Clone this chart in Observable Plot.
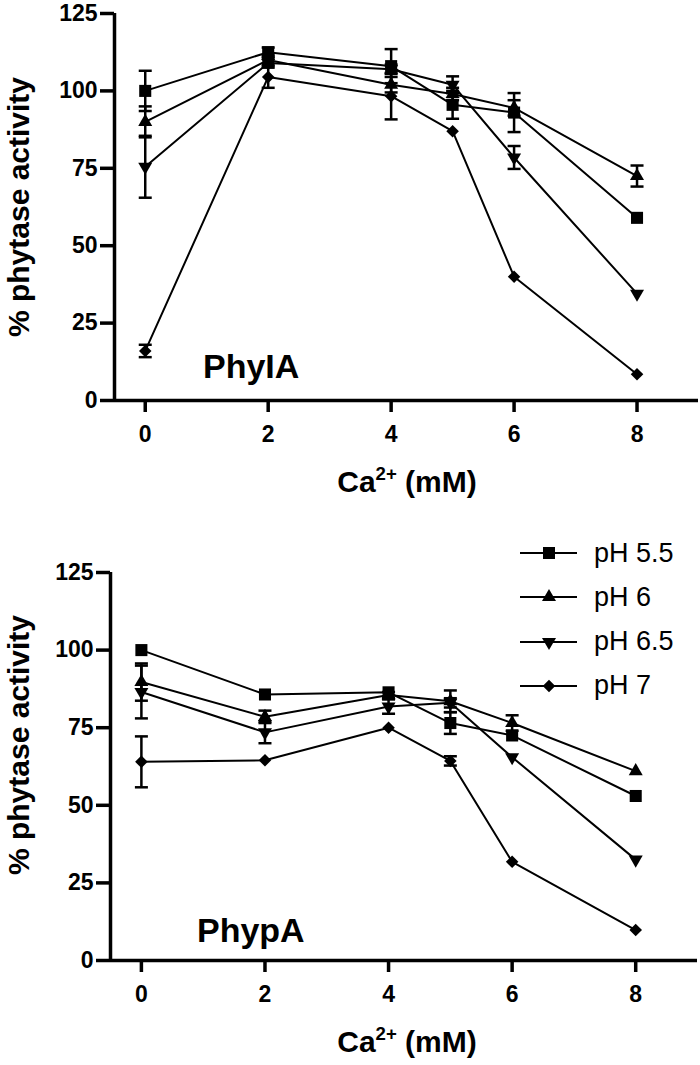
<!DOCTYPE html>
<html><head><meta charset="utf-8">
<script src="https://cdn.jsdelivr.net/npm/d3@7"></script>
<script src="https://cdn.jsdelivr.net/npm/@observablehq/plot@0.6"></script>
<style>
body{margin:0;background:#fff;font-family:"Liberation Sans",Arial,sans-serif;}
#wrap{position:relative;width:700px;height:1065px;overflow:hidden;background:#fff;}
.abs{position:absolute;white-space:nowrap;color:#000;line-height:1;}
.ylab{font-weight:bold;font-size:30px;width:400px;text-align:center;transform:rotate(-90deg);}
.xlab{font-weight:bold;font-size:30px;width:300px;text-align:center;}
.xlab sup{font-size:0.62em;vertical-align:0;position:relative;top:-0.62em;line-height:0;}
.panel{font-weight:bold;font-size:34px;}
.leg{font-size:27px;display:flex;align-items:center;height:44px;}
.leg svg{margin-right:8px;}
.plotbox{position:absolute;left:0;}
</style></head>
<body><div id="wrap"></div>
<script>
// ---- data ----
const caConc = [0, 2, 4, 5, 6, 8];
const phLabels = ["pH 5.5", "pH 6", "pH 6.5", "pH 7"];
const xTicks = [0, 2, 4, 6, 8];
const yTicks = [0, 25, 50, 75, 100, 125];

// PhyIA (% phytase activity) and error bars
const phyIA_pH55 = [100, 112.5, 108, 95.5, 93, 59];
const phyIA_pH6  = [90, 110, 102, 99, 94.5, 72.5];
const phyIA_pH65 = [75.5, 109, 107, 102, 78.5, 34.5];
const phyIA_pH7  = [16, 104.5, 98.3, 87, 40, 8.5];
const phyIA_err55 = [6.5, 1.5, 5.5, 4.5, 6.3, 0];
const phyIA_err6  = [5, 1.5, 2.5, 2, 2.5, 3.4];
const phyIA_err65 = [10, 1.5, 1.5, 2.7, 3.7, 0];
const phyIA_err7  = [2, 3.5, 7.5, 0, 0, 0];

// PhypA
const phypA_pH55 = [100, 85.7, 86.4, 76.5, 72.5, 53];
const phypA_pH6  = [89.7, 78.5, 85.5, 83.5, 76.5, 61];
const phypA_pH65 = [86.5, 73.5, 81.8, 83, 65.5, 32.5];
const phypA_pH7  = [64, 64.5, 75, 64.3, 31.8, 9.8];
const phypA_err55 = [0, 0, 0, 3.5, 0, 0];
const phypA_err6  = [6, 2, 1, 3.5, 2.5, 0];
const phypA_err65 = [8.5, 3.5, 2.3, 1.5, 0, 0];
const phypA_err7  = [8.2, 0, 0, 1.5, 0, 0];

// ---- helpers ----
function rows(vals, errs, s) {
  return caConc.map((x, i) => ({x, y: vals[i], e: errs[i], s}));
}
const markerStyle = {
  "pH 5.5": {symbol: "square", r: 6.8, rotate: 0},
  "pH 6":   {symbol: "triangle", r: 5.2, rotate: 0},
  "pH 6.5": {symbol: "triangle", r: 5.2, rotate: 180},
  "pH 7":   {symbol: "square", r: 5, rotate: 45}
};
const capSymbol = {draw(ctx) { ctx.moveTo(-6.5, 0); ctx.lineTo(6.5, 0); }};

function panel(series, opts) {
  const data = series.flat();
  const err = data.filter(d => d.e > 0);
  const marks = [
    Plot.ruleX(err, {x: "x", y1: d => d.y - d.e, y2: d => d.y + d.e, stroke: "black", strokeWidth: 2.5}),
    Plot.dot(err, {x: "x", y: d => d.y + d.e, symbol: capSymbol, fill: "none", stroke: "black", strokeWidth: 2.5}),
    Plot.dot(err, {x: "x", y: d => d.y - d.e, symbol: capSymbol, fill: "none", stroke: "black", strokeWidth: 2.5}),
    Plot.line(data, {x: "x", y: "y", z: "s", stroke: "black", strokeWidth: 2})
  ];
  for (const s of phLabels) {
    const m = markerStyle[s];
    marks.push(Plot.dot(data.filter(d => d.s === s), {x: "x", y: "y", symbol: m.symbol, r: m.r, rotate: m.rotate, fill: "black", stroke: "none"}));
  }
  marks.push(
    Plot.axisY({ticks: yTicks, tickSize: 14, tickPadding: 3, strokeWidth: 3.5, label: null, tickFormat: d => String(d)}),
    Plot.axisX({ticks: xTicks, tickSize: 12, tickPadding: 13, strokeWidth: 3.5, label: null, tickFormat: d => String(d)}),
    Plot.ruleX([-0.5], {stroke: "black", strokeWidth: 3.5}),
    Plot.ruleY([0], {stroke: "black", strokeWidth: 3.5})
  );
  return Plot.plot({
    width: 700, height: opts.height,
    marginTop: opts.mt, marginBottom: opts.mb, marginLeft: opts.ml, marginRight: opts.mr,
    x: {domain: [-0.5, 9], label: null},
    y: {domain: [0, 125], label: null},
    style: {fontFamily: "'Liberation Sans', Arial, sans-serif", fontSize: "23px", fontWeight: "bold", color: "black", background: "white", overflow: "visible"},
    marks
  });
}

const wrap = document.getElementById("wrap");

const topChart = panel([
  rows(phyIA_pH55, phyIA_err55, "pH 5.5"),
  rows(phyIA_pH6, phyIA_err6, "pH 6"),
  rows(phyIA_pH65, phyIA_err65, "pH 6.5"),
  rows(phyIA_pH7, phyIA_err7, "pH 7")
], {height: 530, mt: 13, mb: 130, ml: 114, mr: 2});
const topBox = document.createElement("div");
topBox.className = "plotbox"; topBox.style.top = "0px";
topBox.appendChild(topChart); wrap.appendChild(topBox);

const botChart = panel([
  rows(phypA_pH55, phypA_err55, "pH 5.5"),
  rows(phypA_pH6, phypA_err6, "pH 6"),
  rows(phypA_pH65, phypA_err65, "pH 6.5"),
  rows(phypA_pH7, phypA_err7, "pH 7")
], {height: 535, mt: 42, mb: 105, ml: 110, mr: 3});
const botBox = document.createElement("div");
botBox.className = "plotbox"; botBox.style.top = "530px";
botBox.appendChild(botChart); wrap.appendChild(botBox);

function addDiv(cls, html, left, topPx) {
  const d = document.createElement("div");
  d.className = "abs " + cls; d.innerHTML = html;
  d.style.left = left + "px"; d.style.top = topPx + "px";
  wrap.appendChild(d); return d;
}
// y labels (centered boxes, rotated)
addDiv("ylab", "% phytase activity", 19 - 200, 207 - 15);
addDiv("ylab", "% phytase activity", 19 - 200, 745 - 15);
// x labels
addDiv("xlab", "Ca<sup>2+</sup> (mM)", 407 - 150, 467);
addDiv("xlab", "Ca<sup>2+</sup> (mM)", 407 - 150, 1027);
// panel labels
addDiv("panel", "PhyIA", 203, 349);
addDiv("panel", "PhypA", 197, 913);

// legend
const legendSym = {
  "pH 5.5": d3.symbol(d3.symbolSquare, Math.PI * 6.8 * 6.8)(),
  "pH 6": d3.symbol(d3.symbolTriangle, Math.PI * 5.2 * 5.2)(),
  "pH 6.5": d3.symbol(d3.symbolTriangle, Math.PI * 5.2 * 5.2)(),
  "pH 7": d3.symbol(d3.symbolSquare, Math.PI * 5 * 5)()
};
phLabels.forEach((s, i) => {
  const m = markerStyle[s];
  const html = `<svg width="66" height="20" viewBox="0 0 66 20"><line x1="0" x2="57" y1="10" y2="10" stroke="black" stroke-width="2"/><path d="${legendSym[s]}" transform="translate(29,10) rotate(${m.rotate})" fill="black"/></svg><span>${s}</span>`;
  addDiv("leg", html, 520, 531 + i * 44.3);
});
</script>
</body></html>
